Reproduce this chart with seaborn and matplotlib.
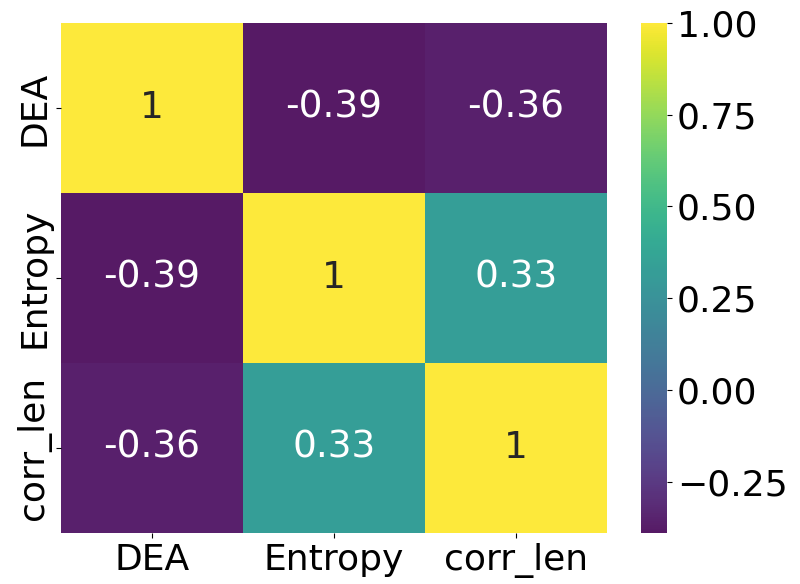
import numpy as np
import pandas as pd
import matplotlib
matplotlib.use('Agg')
import matplotlib.pyplot as plt
import seaborn as sns

# 상관계수 값
labels = ['DEA', 'Entropy', 'corr_len']
row_dea = [1.0, -0.39, -0.36]
row_entropy = [-0.39, 1.0, 0.33]
row_corr_len = [-0.36, 0.33, 1.0]
cbar_ticks = [-0.25, 0.0, 0.25, 0.5, 0.75, 1.0]

corr = pd.DataFrame([row_dea, row_entropy, row_corr_len], index=labels, columns=labels)

plt.rcParams['font.family'] = ['DejaVu Sans']
fig = plt.figure(figsize=(8, 5.84), dpi=100)
ax = fig.add_axes([61 / 800, 51 / 584, 546 / 800, 510 / 584])
cax = fig.add_axes([641 / 800, 51 / 584, 26 / 800, 510 / 584])

sns.heatmap(corr, annot=True, cmap='viridis', alpha=0.9, ax=ax, cbar_ax=cax,
            annot_kws={'size': 27})

ax.tick_params(axis='both', labelsize=26)
ax.set_yticklabels(labels, rotation=90, va='center')
ax.set_xticklabels(labels, rotation=0)
cax.set_yticks(cbar_ticks)
cax.set_yticklabels([f'{t:.2f}'.replace('-', '\u2212') for t in cbar_ticks])
cax.tick_params(labelsize=26)

fig.savefig('out.png', dpi=100)
